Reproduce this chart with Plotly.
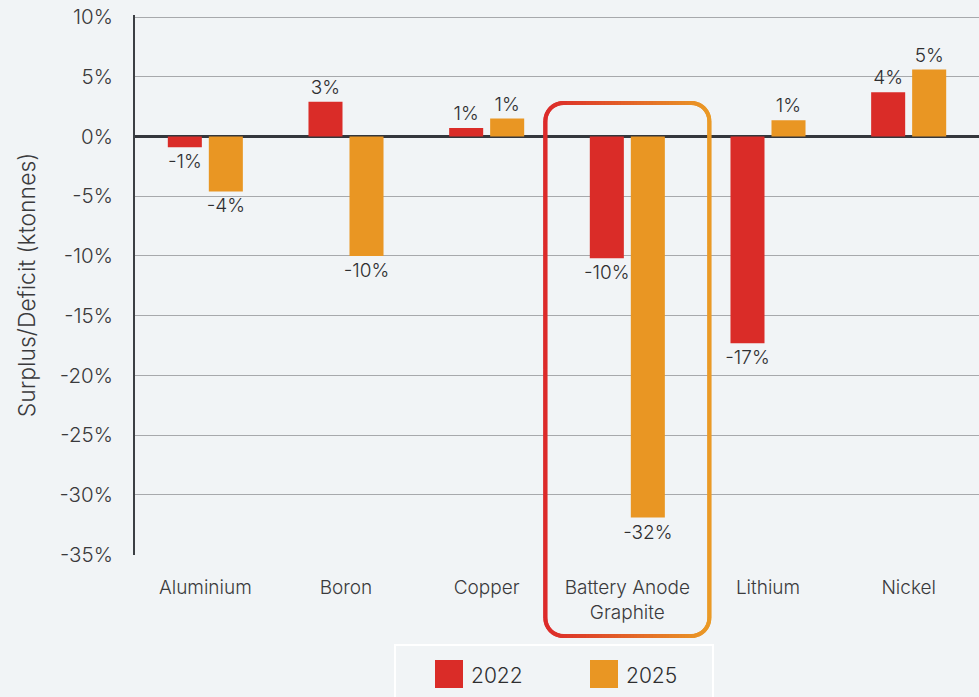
import math
import plotly.graph_objects as go

# ---------------- data ----------------
categories = ["Aluminium", "Boron", "Copper", "Battery Anode<br>Graphite", "Lithium", "Nickel"]
series_names = ["2022", "2025"]
vals_2022 = [-0.9, 2.9, 0.7, -10.2, -17.3, 3.7]
vals_2025 = [-4.6, -10.0, 1.5, -31.9, 1.35, 5.6]
labels_2022 = ["-1%", "3%", "1%", "-10%", "-17%", "4%"]
labels_2025 = ["-4%", "-10%", "1%", "-32%", "1%", "5%"]
tick_vals = [10, 5, 0, -5, -10, -15, -20, -25, -30, -35]
tick_text = ["10%", "5%", "0%", "-5%", "-10%", "-15%", "-20%", "-25%", "-30%", "-35%"]
highlight_category = "Battery Anode<br>Graphite"

# ---------------- style ----------------
RED = "#DA2C28"
ORANGE = "#E99623"
BG = "#F1F4F6"
TXT = "#2E2E30"
FONT = "Inter, Lato, Arial, sans-serif"
OFF = 0                      # page body margin (removed via post_script)
EXTRA_TOP = 2                # px of headroom so the top gridline is drawn
W, H = 979 - OFF, 697 - OFF
ML, MR, MT, MB = 135 - OFF, 0, 17 - OFF - EXTRA_TOP, 142
PW, PH = W - ML - MR, H - MT - MB
UNIT = (555 - 17) / 45.0     # px per percent in the reference
Y_LO, Y_HI = -35.03, 10 + EXTRA_TOP / UNIT


def px2paper(x, y):
    # x, y in screenshot pixels
    return (x - OFF - ML) / PW, (H - MB - (y - OFF)) / PH


fig = go.Figure()
for name, vals, labels, col in [(series_names[0], vals_2022, labels_2022, RED),
                                (series_names[1], vals_2025, labels_2025, ORANGE)]:
    fig.add_trace(go.Bar(
        x=categories, y=vals, name=name, marker_color=col, marker_line_width=0,
        text=labels, textposition="outside", constraintext="none", cliponaxis=False,
        textfont=dict(family=FONT, size=19, color=TXT, weight=300), showlegend=False,
        hoverinfo="x+y",
    ))

fig.update_layout(
    width=W, height=H, autosize=False,
    margin=dict(l=ML, r=MR, t=MT, b=MB, pad=0, autoexpand=False),
    paper_bgcolor=BG, plot_bgcolor=BG,
    barmode="group", bargap=0.417, bargroupgap=0.17,
    font=dict(family=FONT, color=TXT),
    showlegend=False,
)
fig.update_xaxes(
    type="category", showgrid=False, showline=False, zeroline=False, ticks="",
    automargin=False,
    tickfont=dict(family=FONT, size=19, color="#3A3A3C", weight=300), ticklabelstandoff=19,
)
fig.update_yaxes(
    range=[Y_LO, Y_HI], tickvals=tick_vals, ticktext=tick_text, automargin=False,
    showgrid=True, gridcolor="#A7A9AC", gridwidth=1,
    zeroline=True, zerolinecolor="#34373C", zerolinewidth=2.5,
    showline=True, linecolor="#3C3F44", linewidth=2,
    ticks="", ticklabelstandoff=16, ticklabeloverflow="allow",
    tickfont=dict(family=FONT, size=20.5, color="#3A3A3C", weight=300),
    title=dict(text="Surplus/Deficit (ktonnes)",
               font=dict(family=FONT, size=23, color="#3A3A3C", weight=300),
               standoff=18),
)

# ---------------- highlight box with gradient stroke ----------------
idx = categories.index(highlight_category)
cat_w = PW / len(categories)
cx = OFF + ML + (idx + 0.5) * cat_w
bx0, bx1 = cx - 0.583 * cat_w, cx + 0.583 * cat_w
by0, by1 = 103, 636
r = 18
pts = []


def line_pts(a, b, n):
    for k in range(n):
        t = k / n
        pts.append((a[0] + (b[0] - a[0]) * t, a[1] + (b[1] - a[1]) * t))


def arc_pts(c, a0, a1, n):
    for k in range(n):
        a = a0 + (a1 - a0) * k / n
        pts.append((c[0] + r * math.cos(a), c[1] + r * math.sin(a)))


line_pts((bx0 + r, by0), (bx1 - r, by0), 40)
arc_pts((bx1 - r, by0 + r), -math.pi / 2, 0, 8)
line_pts((bx1, by0 + r), (bx1, by1 - r), 4)
arc_pts((bx1 - r, by1 - r), 0, math.pi / 2, 8)
line_pts((bx1 - r, by1), (bx0 + r, by1), 40)
arc_pts((bx0 + r, by1 - r), math.pi / 2, math.pi, 8)
line_pts((bx0, by1 - r), (bx0, by0 + r), 4)
arc_pts((bx0 + r, by0 + r), math.pi, 1.5 * math.pi, 8)
pts.append(pts[0])
pts.append(pts[1])


def hex2rgb(h):
    h = h.lstrip("#")
    return tuple(int(h[i:i + 2], 16) for i in (0, 2, 4))


c0, c1 = hex2rgb("#DC2A2A"), hex2rgb("#EA9A26")
shapes = []
for i in range(len(pts) - 2):
    p0, p1, p2 = pts[i], pts[i + 1], pts[i + 2]
    mx = (p0[0] + p1[0]) / 2
    t = min(max((mx - bx0) / (bx1 - bx0), 0), 1)
    col = "rgb(%d,%d,%d)" % tuple(round(c0[j] + (c1[j] - c0[j]) * t) for j in range(3))
    q = [px2paper(*p) for p in (p0, p1, p2)]
    path = "M%.5f,%.5f L%.5f,%.5f L%.5f,%.5f" % (q[0][0], q[0][1], q[1][0], q[1][1], q[2][0], q[2][1])
    shapes.append(dict(type="path", xref="paper", yref="paper", path=path,
                       line=dict(color=col, width=4), layer="above"))

# ---------------- custom legend ----------------
lx0, ly0 = px2paper(395, 645)
lx1, ly1 = px2paper(713, 720)
shapes.append(dict(type="rect", xref="paper", yref="paper", x0=lx0, y0=ly0, x1=lx1, y1=ly1,
                   line=dict(color="white", width=2), fillcolor=BG, layer="below"))
annotations = []
for (sx, col, name) in [(435, RED, series_names[0]), (590, ORANGE, series_names[1])]:
    a0 = px2paper(sx, 660)
    a1 = px2paper(sx + 28, 688)
    shapes.append(dict(type="rect", xref="paper", yref="paper", x0=a0[0], y0=a0[1], x1=a1[0], y1=a1[1],
                       line=dict(width=0), fillcolor=col))
    tx, ty = px2paper(sx + 34, 675)
    annotations.append(dict(xref="paper", yref="paper", x=tx, y=ty, xanchor="left", yanchor="middle",
                            text=name, showarrow=False,
                            font=dict(family=FONT, size=21, color=TXT, weight=300)))

fig.update_layout(shapes=shapes, annotations=annotations)
fig.write_html("out.html", config={"displayModeBar": False},
               post_script="document.body.style.margin='0';document.body.style.overflow='hidden';")
